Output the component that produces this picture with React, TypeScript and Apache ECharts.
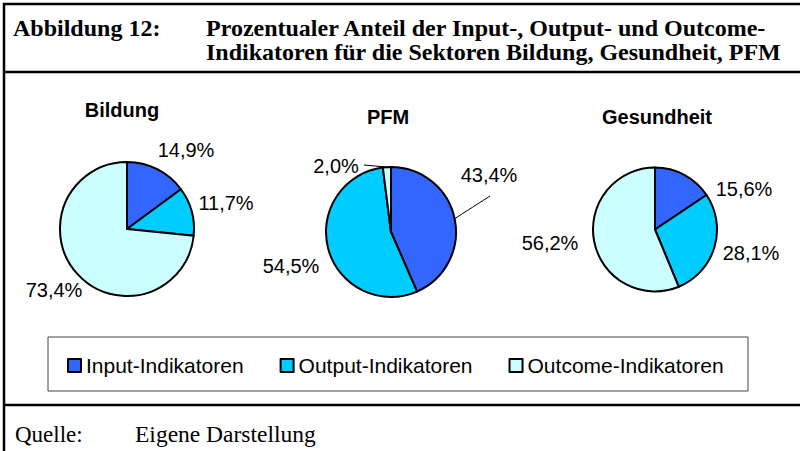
import React, { useEffect, useRef } from 'react';
import * as echarts from 'echarts';

const sectors = ['Bildung', 'PFM', 'Gesundheit'];
const categories = ['Input-Indikatoren', 'Output-Indikatoren', 'Outcome-Indikatoren'];
const bildungValues = [14.9, 11.7, 73.4];
const pfmValues = [43.4, 54.5, 2.0];
const gesundheitValues = [15.6, 28.1, 56.2];
const seriesValues = [bildungValues, pfmValues, gesundheitValues];
const colors = ['#3366FF', '#00CCFF', '#CCFFFF'];

const headerLabel = 'Abbildung 12:';
const headerLine1 = 'Prozentualer Anteil der Input-, Output- und Outcome-';
const headerLine2 = 'Indikatoren für die Sektoren Bildung, Gesundheit, PFM';
const sourceLabel = 'Quelle:';
const sourceText = 'Eigene Darstellung';

// layout (positions / sizes)
const pieCenters = [[127, 229], [391, 232], [655, 229.5]];
const pieRadii = [67, 65, 62];
const titlePos = [[122, 110], [388, 117], [657, 117]];
const labelPos = [
  [[186, 150], [226, 203], [54, 290]],
  [[489, 175], [291, 266], [336, 166]],
  [[744, 189], [751, 253], [550, 243]],
];
// leader line end offsets relative to the label centre (only where a leader line is drawn)
const leaderEnds: Record<string, [number, number]> = {
  '1-0': [1, 21],
  '1-2': [28, -1],
};

const SANS = '"Liberation Sans", Arial, sans-serif';
const SERIF = '"Liberation Serif", "Times New Roman", serif';

const fmt = (v: number) => v.toFixed(1).replace('.', ',') + '%';

function sliceEdgePoint(si: number, di: number): [number, number] {
  const vals = seriesValues[si];
  const total = vals.reduce((a, b) => a + b, 0);
  let before = 0;
  for (let k = 0; k < di; k++) before += vals[k];
  const mid = (before + vals[di] / 2) / total;
  const a = ((90 - mid * 360) * Math.PI) / 180;
  const [cx, cy] = pieCenters[si];
  const r = pieRadii[si];
  return [cx + r * Math.cos(a), cy - r * Math.sin(a)];
}

export default function App() {
  const ref = useRef<HTMLDivElement>(null);
  useEffect(() => {
    const chart = echarts.init(ref.current!, null, { renderer: 'svg' });
    const series = seriesValues.map((vals, si) => ({
      type: 'pie',
      name: sectors[si],
      center: pieCenters[si],
      radius: pieRadii[si],
      startAngle: 90,
      clockwise: true,
      avoidLabelOverlap: false,
      silent: true,
      itemStyle: { borderColor: '#000', borderWidth: 2 },
      label: {
        show: true,
        position: 'outside',
        formatter: (p: any) => fmt(p.value),
        fontFamily: SANS,
        fontSize: 20,
        color: '#000',
      },
      labelLine: { show: false, lineStyle: { color: '#000', width: 1 } },
      labelLayout: (p: any) => {
        const pos = labelPos[p.seriesIndex][p.dataIndex];
        const res: any = { x: pos[0], y: pos[1], align: 'center', verticalAlign: 'middle' };
        const key = `${p.seriesIndex}-${p.dataIndex}`;
        if (leaderEnds[key]) {
          const s = sliceEdgePoint(p.seriesIndex, p.dataIndex);
          const e = [pos[0] + leaderEnds[key][0], pos[1] + leaderEnds[key][1]];
          res.labelLinePoints = [s, [(s[0] + e[0]) / 2, (s[1] + e[1]) / 2], e];
        }
        return res;
      },
      data: categories.map((c, i) => ({
        name: c,
        value: vals[i],
        labelLine: leaderEnds[`${si}-${i}`]
          ? { show: true, length: 6, length2: 0, smooth: false, lineStyle: { color: '#000', width: 1 } }
          : { show: false },
      })),
    }));

    const graphics: any[] = [
      { type: 'line', shape: { x1: 3, y1: 4, x2: 800, y2: 4 }, style: { stroke: '#000', lineWidth: 2.5 } },
      { type: 'line', shape: { x1: 4, y1: 3, x2: 4, y2: 451 }, style: { stroke: '#000', lineWidth: 2.5 } },
      { type: 'line', shape: { x1: 4, y1: 72, x2: 800, y2: 72 }, style: { stroke: '#000', lineWidth: 2.5 } },
      { type: 'line', shape: { x1: 4, y1: 405, x2: 800, y2: 405 }, style: { stroke: '#000', lineWidth: 2.5 } },
      { type: 'rect', shape: { x: 48, y: 337, width: 700, height: 54 }, style: { fill: 'none', stroke: '#444', lineWidth: 1 } },
      { type: 'text', x: 13, y: 28, style: { text: headerLabel, font: `bold 24px ${SERIF}`, fill: '#000', textVerticalAlign: 'middle' } },
      { type: 'text', x: 206, y: 28, style: { text: headerLine1, font: `bold 24px ${SERIF}`, fill: '#000', textVerticalAlign: 'middle' } },
      { type: 'text', x: 206, y: 52, style: { text: headerLine2, font: `bold 24px ${SERIF}`, fill: '#000', textVerticalAlign: 'middle' } },
      { type: 'text', x: 15, y: 434, style: { text: sourceLabel, font: `23px ${SERIF}`, fill: '#000', textVerticalAlign: 'middle' } },
      { type: 'text', x: 135, y: 434, style: { text: sourceText, font: `23.5px ${SERIF}`, fill: '#000', textVerticalAlign: 'middle' } },
      ...sectors.map((s, i) => ({
        type: 'text', x: titlePos[i][0], y: titlePos[i][1],
        style: { text: s, font: `bold 20px ${SANS}`, fill: '#000', textAlign: 'center', textVerticalAlign: 'middle' },
      })),
    ];

    chart.setOption({
      animation: false,
      color: colors,
      legend: {
        data: categories,
        left: 67,
        top: 355,
        padding: 0,
        itemGap: 36,
        itemWidth: 13,
        itemHeight: 13,
        icon: 'rect',
        itemStyle: { borderColor: '#000', borderWidth: 2 },
        textStyle: { fontFamily: SANS, fontSize: 21, color: '#000' },
        selectedMode: false,
      },
      graphic: graphics,
      series,
    });
    return () => chart.dispose();
  }, []);
  return (
    <div
      ref={ref}
      style={{ position: 'fixed', left: 0, top: 0, width: 800, height: 451, background: '#fff' }}
    />
  );
}
